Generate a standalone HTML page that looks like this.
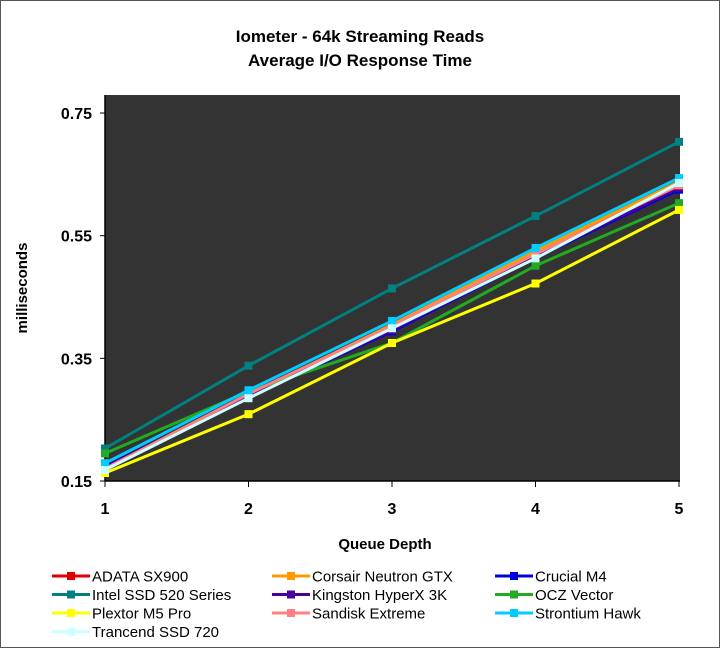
<!DOCTYPE html>
<html><head><meta charset="utf-8"><style>
html,body{margin:0;padding:0;background:#fff;}
svg{display:block;font-family:"Liberation Sans",Arial,sans-serif;}
</style></head><body>
<svg id="c" width="720" height="648" viewBox="0 0 720 648">
<rect x="0.5" y="0.5" width="719" height="647" fill="#fff" stroke="#555"/>
<text x="360" y="42" text-anchor="middle" font-size="17" font-weight="bold">Iometer - 64k Streaming Reads</text>
<text x="360" y="66" text-anchor="middle" font-size="17" font-weight="bold">Average I/O Response Time</text>
<rect x="105" y="95" width="575" height="386" fill="#333333"/>
<g id="axes"></g>
<g id="series"></g>
<g id="legend"></g>
<text x="385" y="549" text-anchor="middle" font-size="15" font-weight="bold">Queue Depth</text>
<text transform="translate(27,288) rotate(-90)" text-anchor="middle" font-size="15" font-weight="bold">milliseconds</text>
</svg>
<script>
const categories=[1,2,3,4,5];
const yTicks=[0.15,0.35,0.55,0.75];
const seriesNames=["ADATA SX900","Corsair Neutron GTX","Crucial M4","Intel SSD 520 Series","Kingston HyperX 3K","OCZ Vector","Plextor M5 Pro","Sandisk Extreme","Strontium Hawk","Trancend SSD 720"];
const seriesColors=["#e00000","#ff9900","#0000dd","#008080","#4b0099","#22aa22","#ffff00","#ff8080","#00ccff","#ccffff"];
const adata=[0.172,0.290,0.402,0.522,0.635];
const corsair=[0.170,0.290,0.405,0.525,0.638];
const crucial=[0.173,0.288,0.394,0.514,0.625];
const intel=[0.203,0.338,0.464,0.582,0.703];
const kingston=[0.172,0.288,0.396,0.515,0.628];
const ocz=[0.195,0.296,0.375,0.501,0.603];
const plextor=[0.163,0.259,0.375,0.472,0.592];
const sandisk=[0.170,0.292,0.403,0.520,0.632];
const strontium=[0.179,0.298,0.411,0.530,0.644];
const trancend=[0.168,0.285,0.399,0.513,0.636];
const seriesValues=[adata,corsair,crucial,intel,kingston,ocz,plextor,sandisk,strontium,trancend];
const NS="http://www.w3.org/2000/svg";
const X=v=>105+(v-1)*143.5;
const Y=v=>481-(v-0.15)*613.3;
function mk(t,a,p){const e=document.createElementNS(NS,t);for(const k in a)e.setAttribute(k,a[k]);p.appendChild(e);return e;}
const ax=document.getElementById('axes');
let l=mk('line',{x1:105,y1:95,x2:105,y2:481,stroke:'#000','stroke-width':1.5},ax);


l=mk('line',{x1:105,y1:481,x2:680,y2:481,stroke:'#000','stroke-width':1.5},ax);


yTicks.forEach(t=>{
 mk('line',{x1:100,y1:Y(t),x2:105,y2:Y(t),stroke:'#000'},ax);
 const tx=mk('text',{x:92,y:Y(t)+6,'text-anchor':'end','font-size':16,'font-weight':'bold'},ax);
 tx.textContent=t.toFixed(2);
 
 
});
categories.forEach(c=>{
 mk('line',{x1:X(c),y1:481,x2:X(c),y2:487,stroke:'#000'},ax);
 const tx=mk('text',{x:X(c),y:514,'text-anchor':'middle','font-size':16,'font-weight':'bold'},ax);
 tx.textContent=c;
 
 
});
const sg=document.getElementById('series');
seriesValues.forEach((vals,i)=>{
 const g=mk('g',{},sg);
 
 
 mk('polyline',{points:vals.map((v,j)=>X(categories[j])+','+Y(v)).join(' '),fill:'none',stroke:seriesColors[i],'stroke-width':3},g);
 vals.forEach((v,j)=>{
  const r=mk('rect',{x:X(categories[j])-4,y:Y(v)-4,width:8,height:8,fill:seriesColors[i]},g);
  
  
 });
});
const lg=document.getElementById('legend');
const colX=[52,272,495];
seriesNames.forEach((n,i)=>{
 const cx=colX[i%3],cy=576+Math.floor(i/3)*18.5;
 const g=mk('g',{},lg);
 
 
 mk('line',{x1:cx,y1:cy,x2:cx+38,y2:cy,stroke:seriesColors[i],'stroke-width':3},g);
 mk('rect',{x:cx+15,y:cy-4,width:8,height:8,fill:seriesColors[i]},g);
 const t=mk('text',{x:cx+40,y:cy+5.5,'font-size':15},g);
 t.textContent=n;
});
</script>
</body></html>
